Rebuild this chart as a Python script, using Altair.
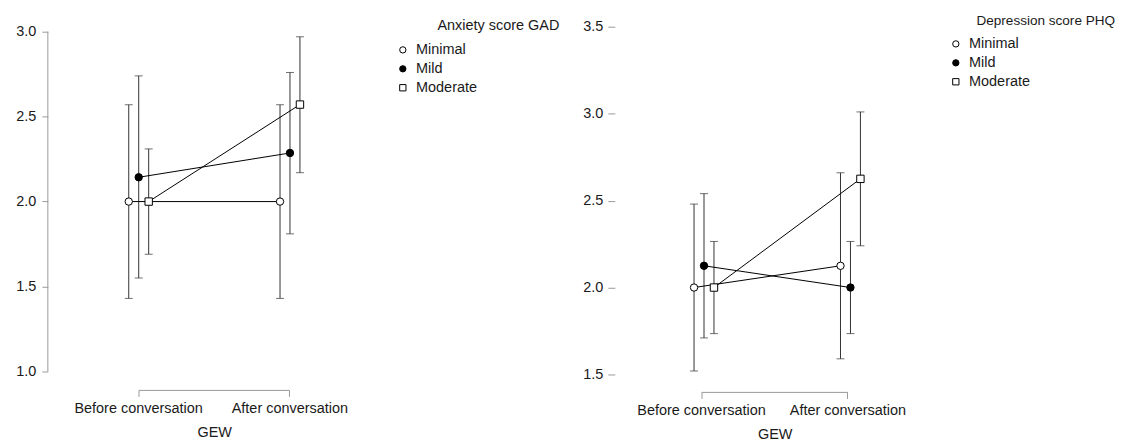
import altair as alt
import pandas as pd

FONT = "Liberation Sans"
FS = 14.5
TXT = "#1a1a1a"
GRAY = "#9a9a9a"
BAR = "#333333"

periods = ["Before conversation", "After conversation"]
levels = ["Minimal", "Mild", "Moderate"]

# Anxiety score GAD (left panel)
gad_mean_minimal = [2.0, 2.0]
gad_low_minimal = [1.43, 1.43]
gad_high_minimal = [2.57, 2.57]
gad_mean_mild = [2.143, 2.286]
gad_low_mild = [1.55, 1.81]
gad_high_mild = [2.74, 2.76]
gad_mean_moderate = [2.0, 2.571]
gad_low_moderate = [1.69, 2.17]
gad_high_moderate = [2.31, 2.97]
gad_ticks = [1.0, 1.5, 2.0, 2.5, 3.0]

# Depression score PHQ (right panel)
phq_mean_minimal = [2.0, 2.125]
phq_low_minimal = [1.52, 1.59]
phq_high_minimal = [2.48, 2.66]
phq_mean_mild = [2.125, 2.0]
phq_low_mild = [1.71, 1.735]
phq_high_mild = [2.54, 2.265]
phq_mean_moderate = [2.0, 2.625]
phq_low_moderate = [1.735, 2.24]
phq_high_moderate = [2.265, 3.01]
phq_ticks = [1.5, 2.0, 2.5, 3.0, 3.5]


def build(means, lows, highs):
    rows = []
    for lev, m, lo, hi in zip(levels, means, lows, highs):
        for i, p in enumerate(periods):
            rows.append({"period": p, "level": lev, "mean": m[i], "low": lo[i], "high": hi[i]})
    return pd.DataFrame(rows)


gad_df = build([gad_mean_minimal, gad_mean_mild, gad_mean_moderate],
               [gad_low_minimal, gad_low_mild, gad_low_moderate],
               [gad_high_minimal, gad_high_mild, gad_high_moderate])
phq_df = build([phq_mean_minimal, phq_mean_mild, phq_mean_moderate],
               [phq_low_minimal, phq_low_mild, phq_low_moderate],
               [phq_high_minimal, phq_high_mild, phq_high_moderate])


def panel(df, legend_title, yticks, ydomain, width, height, x_po, dodge_range, x_offset,
          draw_domain, tick_size, label_pad, legend_x, legend_y, title_x, title_y, title_fs):
    xenc = alt.X(
        "period:N", sort=periods,
        scale=alt.Scale(paddingInner=0, paddingOuter=x_po),
        axis=alt.Axis(title="GEW", labelAngle=0, domain=False, ticks=True, tickSize=6,
                      tickColor=GRAY, offset=x_offset, labelPadding=5, titlePadding=11,
                      labelFontSize=FS, titleFontSize=FS, titleFontWeight="normal",
                      labelColor=TXT, titleColor=TXT, grid=False, labelFont=FONT,
                      titleFont=FONT),
    )
    xoff = alt.XOffset("level:N", sort=levels,
                       scale=alt.Scale(paddingInner=0, paddingOuter=0, range=dodge_range))
    yscale = alt.Scale(domain=ydomain, nice=False, zero=False)
    yaxis = alt.Axis(values=yticks, format=".1f", domain=False, tickSize=tick_size,
                     tickColor=GRAY, labelPadding=label_pad, labelFontSize=FS,
                     labelColor=TXT, title=None, grid=False, labelFont=FONT)
    leg = alt.Legend(title=None, orient="none", legendX=legend_x, legendY=legend_y,
                     labelFontSize=FS, labelColor=TXT, labelFont=FONT, symbolSize=40,
                     symbolStrokeWidth=1, rowPadding=4,
                     labelOffset=6, padding=0)
    base = alt.Chart(df)
    bars = base.mark_rule(color=BAR, strokeWidth=1).encode(
        x=xenc, xOffset=xoff, y=alt.Y("low:Q", scale=yscale, axis=yaxis), y2="high:Q")
    cap_lo = base.mark_tick(color=BAR, thickness=1, size=8, orient="horizontal").encode(
        x=xenc, xOffset=xoff, y="low:Q")
    cap_hi = base.mark_tick(color=BAR, thickness=1, size=8, orient="horizontal").encode(
        x=xenc, xOffset=xoff, y="high:Q")
    lines = base.mark_line(color="black", strokeWidth=1).encode(
        x=xenc, xOffset=xoff, y="mean:Q", detail="level:N")
    pts = base.mark_point(filled=True, size=55, strokeWidth=1, opacity=1).encode(
        x=xenc, xOffset=xoff, y="mean:Q",
        shape=alt.Shape("level:N", sort=levels,
                        scale=alt.Scale(domain=levels, range=["circle", "circle", "square"]),
                        legend=leg),
        fill=alt.Fill("level:N", sort=levels,
                      scale=alt.Scale(domain=levels, range=["white", "black", "white"]),
                      legend=leg),
        stroke=alt.Stroke("level:N", sort=levels,
                          scale=alt.Scale(domain=levels, range=["black", "black", "black"]),
                          legend=leg),
    )
    bracket = alt.Chart(pd.DataFrame({"period": periods})).mark_line(
        color=GRAY, strokeWidth=1).encode(x=xenc, y=alt.value(height + x_offset))
    ltitle = alt.Chart(pd.DataFrame({"t": [legend_title]})).mark_text(
        align="left", baseline="middle", fontSize=title_fs, font=FONT, color=TXT).encode(
        text="t:N", x=alt.value(title_x), y=alt.value(title_y))
    layers = [bars, cap_lo, cap_hi, lines, pts, bracket, ltitle]
    if draw_domain:
        dom = alt.Chart(pd.DataFrame({"a": [0]})).mark_rule(color=GRAY, strokeWidth=1).encode(
            y=alt.Y(datum=yticks[0]), y2=alt.Y2(datum=yticks[-1]), x=alt.value(0))
        layers.append(dom)
    return alt.layer(*layers).properties(width=width, height=height)


left = panel(gad_df, "Anxiety score GAD", gad_ticks, [0.9823, 3.0293], 334, 349, 0.1,
             [61, 91], 16, True, 6, 6, 349, 16, 391, -1, FS)
right = panel(phq_df, "Depression score PHQ", phq_ticks, [1.5, 3.5], 321, 349, 0.092,
              [58.6, 88.4], 18, False, 7, 5, 335, 10, 363, -6, 13.6)

chart = alt.hconcat(left, right, spacing=235, bounds="flush").resolve_scale(
    fill="independent", shape="independent", stroke="independent").properties(
    padding={"left": 7, "top": 5, "right": 0, "bottom": 0},
    background="white",
).configure(font=FONT).configure_view(stroke=None)

chart.save("out.html", embed_options={"renderer": "svg", "actions": False})
